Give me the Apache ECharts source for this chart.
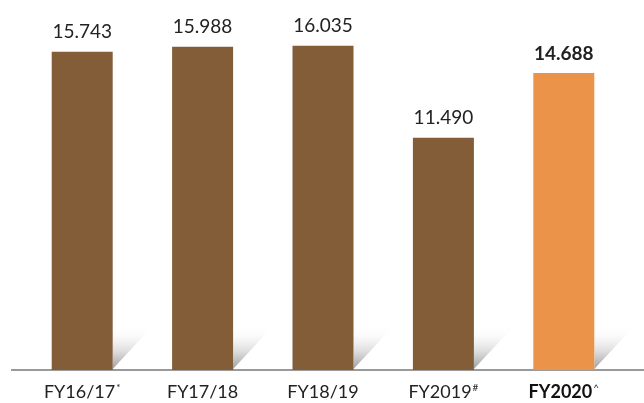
<!DOCTYPE html>
<html>
<head>
<meta charset="utf-8">
<script src="https://cdn.jsdelivr.net/npm/echarts@6/dist/echarts.min.js"></script>
<style>
  html, body { margin: 0; padding: 0; background: #fff; }
  #container { width: 644px; height: 403px; }
</style>
</head>
<body>
<div id="container"></div>
<script>
var categories = ['FY16/17', 'FY17/18', 'FY18/19', 'FY2019', 'FY2020'];
var marks = ['*', '', '', '#', '^'];
var values = [15.743, 15.988, 16.035, 11.490, 14.688];
var highlight = [false, false, false, false, true];

var myChart = echarts.init(document.getElementById('container'));

var brown = '#835C38';
var orange = '#EA9349';

var barData = values.map(function (v, i) {
    return {
        value: v,
        itemStyle: { color: highlight[i] ? orange : brown },
        label: { fontWeight: highlight[i] ? 'bold' : 'normal' }
    };
});

// little fading shadow on the right foot of each bar
var shadowFill = new echarts.graphic.LinearGradient(0, 0, 0, 1, [
    { offset: 0, color: 'rgba(255,255,255,0)' },
    { offset: 1, color: '#9c9c9c' }
]);

var option = {
    animation: false,
    grid: { left: 22, right: 20, top: 6, bottom: 33 },
    graphic: [{
        type: 'line',
        shape: { x1: 11, y1: 370, x2: 644, y2: 370 },
        style: { stroke: '#9a9a9a', lineWidth: 2 },
        z: 1
    }],
    xAxis: {
        type: 'category',
        data: categories,
        axisLine: { show: false },
        axisTick: { show: false },
        axisLabel: {
            margin: 13,
            formatter: function (v, i) {
                var tag = highlight[i] ? 'b' : 'n';
                return '{' + tag + '|' + v + '}' + (marks[i] ? '{s|' + marks[i] + '}' : '');
            },
            rich: {
                n: { fontFamily: 'Lato', fontSize: 18, color: '#222' },
                b: { fontFamily: 'Lato', fontSize: 18, fontWeight: 'bold', color: '#111' },
                s: { fontFamily: 'Lato', fontSize: 10, color: '#222', verticalAlign: 'top', padding: [0, 0, 8, 1] }
            }
        }
    },
    yAxis: {
        type: 'value',
        min: 0,
        max: 18,
        show: false,
        splitLine: { show: false }
    },
    series: [
        {
            type: 'bar',
            barWidth: 61,
            data: barData,
            z: 3,
            label: {
                show: true,
                position: 'top',
                distance: 10,
                fontFamily: 'Lato',
                fontSize: 19,
                color: '#222',
                formatter: function (p) { return p.value.toFixed(3); }
            }
        },
        {
            type: 'custom',
            data: values,
            z: 2,
            renderItem: function (params, api) {
                var base = api.coord([params.dataIndex, 0]);
                var x0 = base[0] + 30.5;
                var y0 = base[1] - 1;
                return {
                    type: 'polygon',
                    shape: { points: [[x0, y0 - 43], [x0 + 40, y0 - 43], [x0, y0]] },
                    style: { fill: shadowFill }
                };
            }
        }
    ]
};
myChart.setOption(option, true);
</script>
</body>
</html>
